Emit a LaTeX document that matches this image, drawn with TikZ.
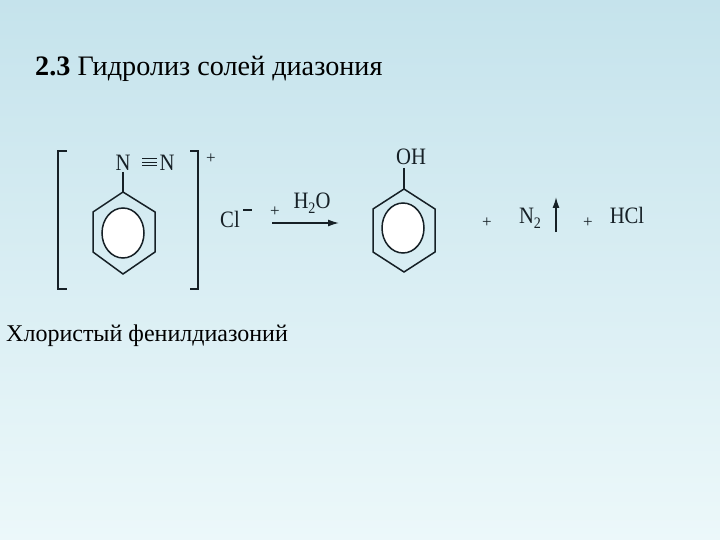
\documentclass[tikz,border=0pt]{standalone}
\usepackage{fontspec}
\setmainfont{Liberation Serif}
\newfontfamily\chemfont[FakeStretch=0.88]{Liberation Serif}
\usetikzlibrary{arrows.meta}
\definecolor{bgtop}{RGB}{197,227,236}
\definecolor{bgbot}{RGB}{236,248,250}
\definecolor{ink}{RGB}{22,32,38}
\newcommand{\lowtwo}{\raisebox{-4.5pt}{\fontsize{16}{16}\selectfont 2}}
\tikzset{
  bond/.style={draw=ink,line width=1.5pt,line join=miter},
  chem/.style={inner sep=0pt,text=ink,font=\chemfont\fontsize{23.5}{26}\selectfont,anchor=base},
  plus/.style={inner sep=0pt,text=ink,font=\fontsize{17}{19}\selectfont,anchor=base},
  title/.style={inner sep=0pt,text=black,anchor=base west},
  hole/.style={draw=ink,fill=white,line width=1.5pt},
  arrowline/.style={draw=ink,line width=1.4pt,-{Latex[length=11pt,width=7pt]}}
}
\begin{document}
\begin{tikzpicture}[x=1pt,y=-1pt]
\useasboundingbox (0,0) rectangle (720,540);
\shade[top color=bgtop,bottom color=bgbot] (0,0) rectangle (720,540);
\node[title,font=\fontsize{28.2}{32}\selectfont] (ttl) at (35,76) {\textbf{2.3} Гидролиз солей диазония};
\node[title,font=\fontsize{24}{28}\selectfont] (cap) at (6,341) {Хлористый фенилдиазоний};
% left ring
\coordinate (a1) at (123,192);\coordinate (a2) at (155,212);\coordinate (a3) at (155,252);
\coordinate (a4) at (123,274);\coordinate (a5) at (93,252);\coordinate (a6) at (93,212);
\draw[bond] (a1)--(a2)--(a3)--(a4)--(a5)--(a6)--cycle;
\draw[hole] (123,233) ellipse [x radius=21,y radius=25];
\node[chem] (n1) at (123,171) {N};
\node[chem] (n2) at (167,171) {N};
\coordinate (n1b) at (123,172);
\draw[bond] (n1b)--(a1);
\coordinate (t1) at (142,162.5);\coordinate (t2) at (157,162.5);
\draw[draw=ink,line width=1pt] (t1)--(t2) ([yshift=-3.5pt]t1)--([yshift=-3.5pt]t2) ([yshift=3.5pt]t1)--([yshift=3.5pt]t2);
% brackets
\coordinate (bl1) at (67,151);\coordinate (bl2) at (58,151);\coordinate (bl3) at (58,289);\coordinate (bl4) at (67,289);
\draw[bond] (bl1)--(bl2)--(bl3)--(bl4);
\coordinate (br1) at (190,151);\coordinate (br2) at (198,151);\coordinate (br3) at (198,289);\coordinate (br4) at (190,289);
\draw[bond] (br1)--(br2)--(br3)--(br4);
\node[plus] (pl1) at (211,164) {+};
\node[chem] (cl) at (230,227) {Cl};
\draw[draw=ink,line width=1.2pt] (243,210)--(252,210);
\node[plus] (pl2) at (275,217) {+};
\node[chem] (h2o) at (312,209) {H\lowtwo O};
\coordinate (ar1) at (272,223);\coordinate (ar2) at (339,223);
\draw[arrowline] (ar1)--(ar2);
% right ring
\coordinate (b1) at (404,189);\coordinate (b2) at (435,209);\coordinate (b3) at (435,252);
\coordinate (b4) at (404,272);\coordinate (b5) at (373,252);\coordinate (b6) at (373,209);
\draw[bond] (b1)--(b2)--(b3)--(b4)--(b5)--(b6)--cycle;
\draw[hole] (403,228) ellipse [x radius=21,y radius=25];
\node[chem] (oh) at (411,165) {OH};
\coordinate (ohb) at (404,168);
\draw[bond] (ohb)--(b1);
\node[plus] (pl3) at (487,227) {+};
\node[chem] (n2m) at (530,224) {N\lowtwo};
\coordinate (up1) at (556,232);\coordinate (up2) at (556,197);
\draw[arrowline] (up1)--(up2);
\node[plus] (pl4) at (588,227) {+};
\node[chem] (hcl) at (627,224) {HCl};
\end{tikzpicture}
\end{document}
